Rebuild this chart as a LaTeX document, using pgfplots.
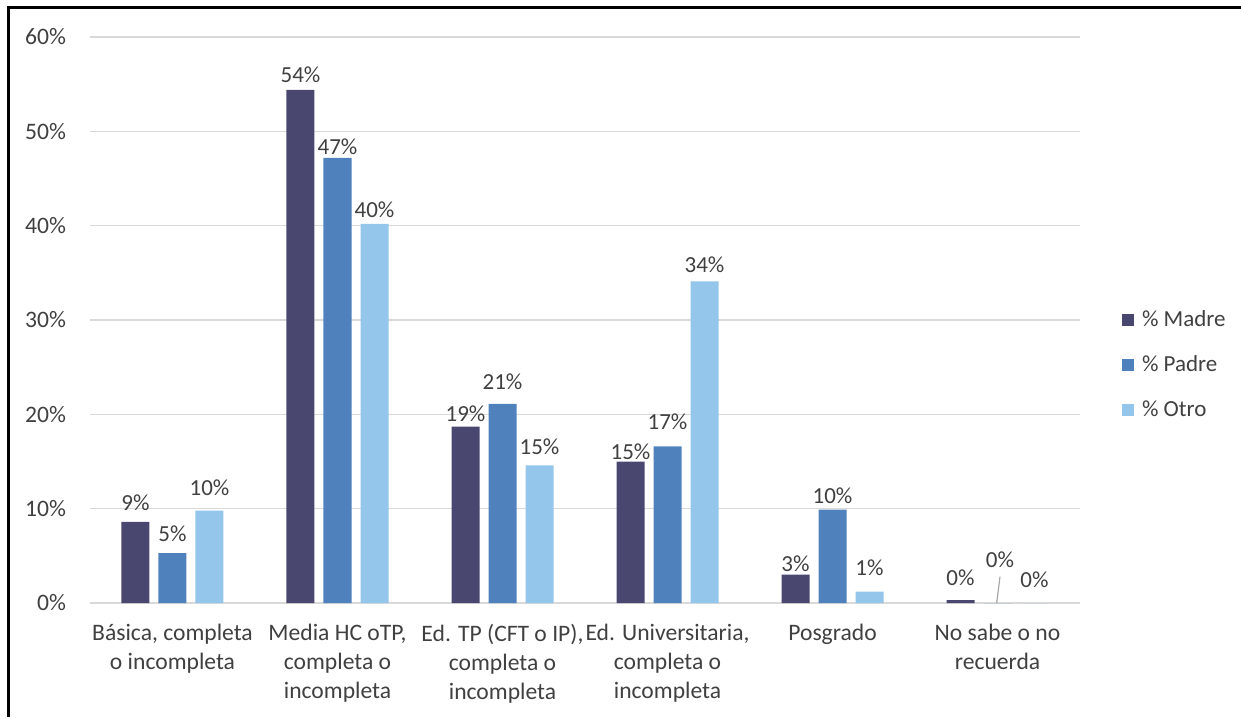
\documentclass[border=0pt]{standalone}
\usepackage{pgfplots}
\pgfplotsset{compat=1.18}
\usepackage{fontspec}
\setmainfont{Carlito}
\definecolor{madre}{HTML}{494770}
\definecolor{padre}{HTML}{4F81BD}
\definecolor{otro}{HTML}{93C6EA}
\definecolor{gridgray}{HTML}{D9D9D9}
\definecolor{txt}{HTML}{404040}
\definecolor{leader}{HTML}{A6A6A6}
% data label raised by #1 (labels were moved by hand in the original)
\newcommand{\lab}[2]{\raisebox{#1pt}{#2\%}}

\begin{document}
\begin{tikzpicture}
\begin{axis}[
    scale only axis,
    width=495pt, height=283pt,
    xmin=-0.5, xmax=5.5,
    ymin=0, ymax=60,
    ybar=4.5pt, bar width=14pt,
    axis line style={draw=none},
    major tick length=0pt,
    ymajorgrids, grid style={gridgray, line width=0.75pt},
    extra y ticks={0}, extra y tick labels={},
    extra y tick style={grid style={gridgray, line width=0.9pt}},
    xtick={0,...,5},
    xticklabels={{Básica, completa\\o incompleta},
                 {Media HC oTP,\\completa o\\incompleta},
                 {Ed. TP (CFT o IP),\\completa o\\incompleta},
                 {Ed. Universitaria,\\completa o\\incompleta},
                 {Posgrado},
                 {No sabe o no\\recuerda}},
    xticklabel style={align=center, font=\fontsize{11.8}{14.5}\selectfont, text=txt, yshift=-7pt},
    ytick={0,10,...,60},
    yticklabels={0\%,10\%,20\%,30\%,40\%,50\%,60\%},
    yticklabel style={font=\fontsize{11.8}{13}\selectfont, text=txt, xshift=-8.5pt},
    point meta=explicit symbolic,
    nodes near coords,
    nodes near coords style={font=\fontsize{11.5}{13}\selectfont, text=txt, anchor=base, yshift=3.6pt},
    legend style={at={(1.036,0.4205)}, anchor=west, draw=none, fill=none,
        font=\fontsize{11.5}{13}\selectfont, text=txt, row sep=9pt,
        legend cell align=left, nodes={inner xsep=4pt}},
    legend image code/.code={\fill[#1] (0pt,-3pt) rectangle (6pt,3pt);},
    clip=false,
]
\addplot[fill=madre, draw=none] coordinates {
    (0,8.6)[\lab{2}{9}] (1,54.4)[\lab{0}{54}] (2,18.7)[\lab{-1}{19}]
    (3,15.0)[\lab{-2.8}{15}] (4,3.0)[\lab{-2}{3}] (5,0.3)[\lab{3.5}{0}]
};
\addplot[fill=padre, draw=none] coordinates {
    (0,5.3)[\lab{2}{5}] (1,47.2)[\lab{-2}{47}] (2,21.1)[\lab{3.5}{21}]
    (3,16.6)[\lab{5}{17}] (4,9.9)[\lab{-0.5}{10}] (5,0)[]
};
\addplot[fill=otro, draw=none] coordinates {
    (0,9.8)[\lab{4}{10}] (1,40.2)[\lab{-0.5}{40}] (2,14.6)[\lab{2}{15}]
    (3,34.1)[\lab{1}{34}] (4,1.2)[\lab{4.5}{1}] (5,0)[\lab{4}{0}]
};
\legend{\% Madre, \% Padre, \% Otro}

% leader line for the padre label in the last group
\draw[leader, line width=0.6pt] (axis cs:4.995,0) -- (axis cs:5.015,2.8);
\node[font=\fontsize{11.5}{13}\selectfont, text=txt, anchor=center] at (axis cs:5.015,4.6) {0\%};

\coordinate (bl) at (rel axis cs:-0.0909,-0.2014);
\coordinate (tr) at (rel axis cs:1.1626,1.0654);
\coordinate (fl) at (rel axis cs:-0.0823,1.0521);
\end{axis}
\draw[black, line width=1.1pt] (fl |- bl) -- (fl) -- (fl -| tr);
\pgfresetboundingbox
\path[use as bounding box] (bl) rectangle (tr);
\end{tikzpicture}
\end{document}
